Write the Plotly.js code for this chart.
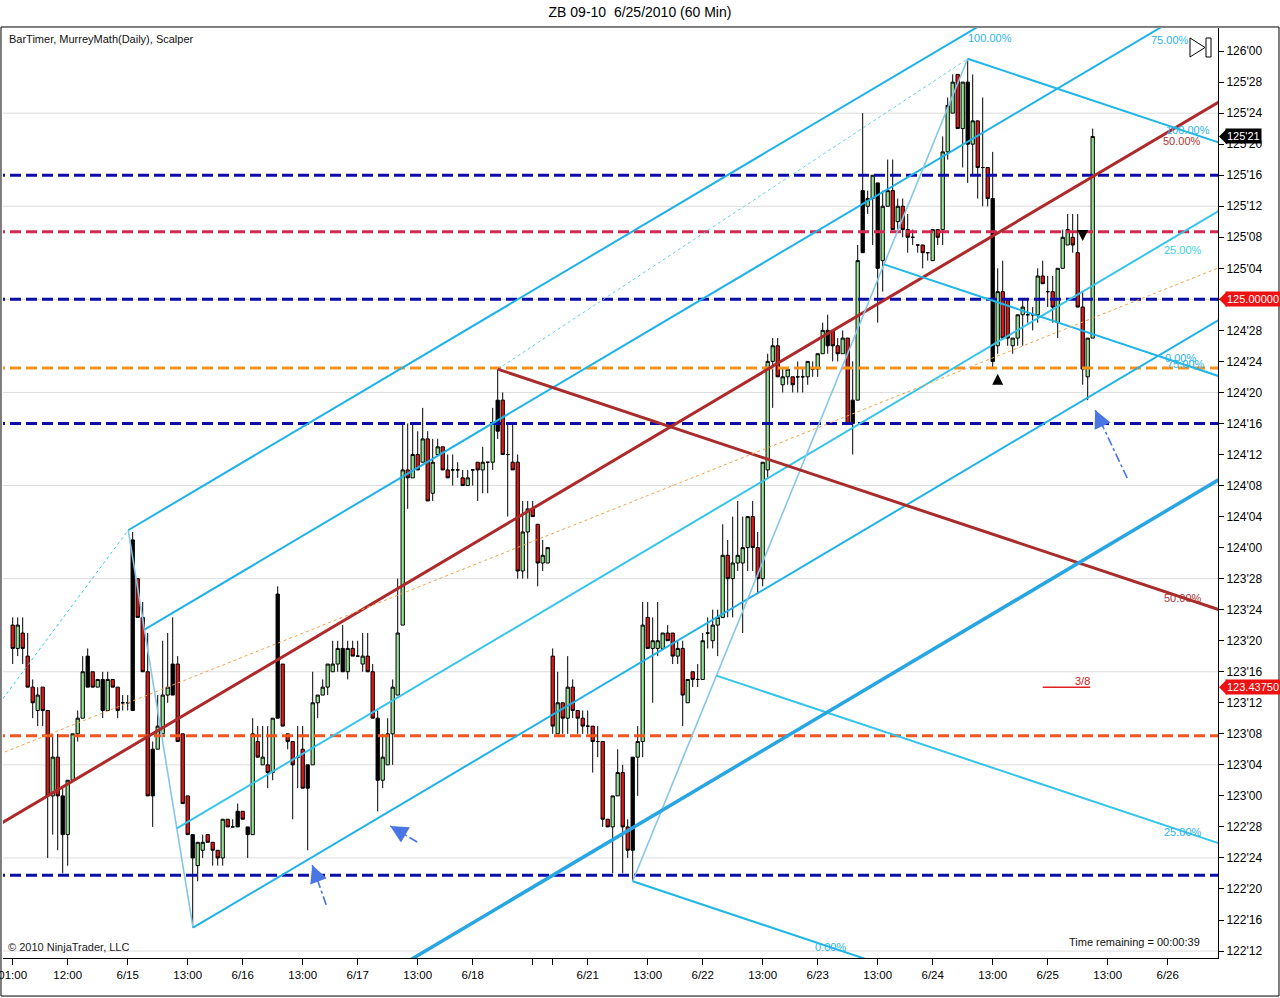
<!DOCTYPE html>
<html>
<head>
<meta charset="utf-8">
<script src="https://cdn.plot.ly/plotly-3.0.1.min.js"></script>
<style>html,body{margin:0;padding:0;background:#fff;}#chart{width:1280px;height:998px;}</style>
</head>
<body>
<div id="chart"></div>
<script>
// ================= DATA (ZB 09-10, 60 min bars, prices in points) =================
const openP = [
123.688,123.594,123.656,123.563,123.438,123.344,123.438,123.344,123,123.156,
123,122.844,123.063,123.25,123.313,123.563,123.5,123.438,123.469,123.344,
123.469,123.438,123.375,123.375,123.344,123.875,123.719,123.5,123,123.188,
123.25,123.406,123.406,123.531,123.25,123,122.844,122.719,122.781,122.844,
122.813,122.781,122.75,122.906,122.875,122.875,122.938,122.875,122.844,123.219,
123.125,123.125,123.094,123.313,123.531,123.25,123.219,123.156,123.188,123.125,
123.125,123.375,123.406,123.438,123.5,123.531,123.594,123.5,123.594,123.563,
123.531,123.563,123.5,123.313,123.063,123.125,123.25,123.406,123.688,124.313,
124.281,124.375,124.344,124.438,124.219,124.375,124.406,124.313,124.313,124.313,
124.281,124.25,124.313,124.344,124.313,124.344,124.344,124.469,124.594,124.375,
124.344,124.344,123.906,124.063,124.156,124.094,123.938,123.938,123.563,123.25,
123.375,123.313,123.438,123.344,123.313,123.281,123.281,123.219,123.219,122.906,
122.875,123,123.094,122.875,122.781,123.156,123.219,123.719,123.594,123.594,
123.594,123.656,123.656,123.563,123.594,123.375,123.5,123.469,123.469,123.656,
123.625,123.688,123.719,123.969,123.875,123.938,123.938,124,124.125,124,
123.875,124.313,124.75,124.813,124.656,124.688,124.688,124.688,124.688,124.688,
124.719,124.719,124.781,124.875,124.875,124.813,124.781,124.844,124.594,124.594,
125.188,125.375,125.406,125.469,125.156,125.375,125.438,125.313,125.375,125.281,
125.25,125.219,125.219,125.188,125.156,125.281,125.281,125.594,125.75,125.906,
125.688,125.875,125.625,125.719,125.531,125.531,125.406,124.813,125.031,125,
124.813,124.844,124.938,124.938,124.938,124.938,125.094,125.031,125.031,124.906,
125.125,125.219,125.25,125.188,124.969,124.688,124.844];
const highP = [
123.719,123.719,123.719,123.656,123.469,123.438,123.438,123.344,123.25,123.25,
123.031,123.063,123.25,123.344,123.563,123.594,123.5,123.469,123.5,123.5,
123.469,123.438,123.406,123.406,124.063,123.875,123.781,123.656,123.219,123.406,
123.625,123.656,123.719,123.563,123.25,123,122.844,122.813,122.844,122.844,
122.813,122.781,122.906,122.906,122.906,122.969,122.938,122.875,123.313,123.281,
123.281,123.281,123.313,123.844,123.531,123.25,123.219,123.281,123.281,123.125,
123.5,123.406,123.469,123.531,123.625,123.625,123.688,123.625,123.625,123.625,
123.656,123.656,123.531,123.344,123.25,123.313,123.469,123.875,124.5,124.5,
124.5,124.469,124.563,124.469,124.438,124.438,124.406,124.375,124.375,124.344,
124.313,124.313,124.313,124.344,124.406,124.344,124.563,124.719,124.625,124.5,
124.5,124.375,124.188,124.188,124.188,124.094,124.031,124,123.594,123.5,
123.375,123.563,123.469,123.344,123.344,123.344,123.281,123.281,123.219,122.906,
123,123.188,123.125,122.906,123.156,123.281,123.781,123.781,123.719,123.781,
123.656,123.688,123.656,123.625,123.625,123.469,123.5,123.531,123.656,123.719,
123.75,123.75,124.094,124.031,124.125,124.188,124.125,124.125,124.188,124.063,
124.344,124.781,124.844,124.844,124.719,124.719,124.688,124.75,124.719,124.75,
124.75,124.781,124.906,124.938,124.875,124.844,124.875,124.844,124.75,125.219,
125.75,125.438,125.5,125.469,125.438,125.563,125.563,125.406,125.406,125.344,
125.281,125.219,125.219,125.188,125.281,125.281,125.656,125.813,125.906,125.906,
125.875,125.969,125.906,125.719,125.813,125.531,125.594,125.125,125.156,125,
124.844,124.938,125,125,124.969,125.125,125.156,125.094,125.094,125.125,
125.281,125.344,125.344,125.344,125.031,124.844,125.688];
const lowP = [
123.531,123.563,123.531,123.438,123.313,123.281,123.281,122.75,122.844,122.781,
122.688,122.719,123.063,123.219,123.313,123.438,123.438,123.438,123.313,123.344,
123.438,123.313,123.344,123.344,123.344,123.719,123.5,123,122.875,123.188,
123.25,123.375,123.406,123.219,122.969,122.844,122.469,122.656,122.75,122.813,
122.719,122.719,122.719,122.875,122.875,122.875,122.906,122.75,122.844,123.156,
123.125,123.031,123.063,123.313,123.281,123.188,122.906,123.031,123.031,122.781,
123.125,123.313,123.406,123.406,123.5,123.5,123.5,123.469,123.563,123.563,
123.5,123.5,123.313,122.938,123.031,123.125,123.125,123.406,123.688,124.156,
124.281,124.313,124.344,124.188,124.188,124.375,124.313,124.281,124.25,124.281,
124.25,124.25,124.25,124.188,124.219,124.219,124.313,124.438,124.375,124.125,
124.313,123.875,123.875,123.875,124.125,123.844,123.906,123.938,123.25,123.25,
123.25,123.25,123.313,123.25,123.25,123.25,123.094,123.156,122.875,122.875,
122.688,123,122.688,122.75,122.656,123,123.156,123.594,123.375,123.563,
123.594,123.625,123.531,123.531,123.281,123.375,123.438,123.438,123.469,123.594,
123.594,123.563,123.719,123.719,123.719,123.906,123.656,123.906,123.906,123.813,
123.844,124.281,124.563,124.688,124.625,124.656,124.625,124.625,124.625,124.656,
124.688,124.688,124.781,124.781,124.75,124.75,124.781,124.5,124.375,124.594,
125.188,125.344,125.219,124.906,125.031,125.375,125.281,125.281,125.25,125.188,
125.219,125.188,125.125,125.156,125.156,125.219,125.219,125.563,125.75,125.688,
125.531,125.469,125.5,125.406,125.375,125.375,124.719,124.781,124.844,124.813,
124.781,124.813,124.813,124.906,124.875,124.906,125.063,124.969,124.906,124.844,
125.125,125.219,125.188,124.969,124.656,124.594,124.844];
const closeP = [
123.594,123.688,123.594,123.438,123.375,123.406,123.344,123,123.156,123,
122.844,123.063,123.25,123.313,123.5,123.438,123.438,123.469,123.344,123.469,
123.438,123.344,123.375,123.375,124.031,123.719,123.5,123,123.188,123.281,
123.406,123.438,123.531,123.219,122.969,122.844,122.75,122.813,122.813,122.813,
122.781,122.75,122.906,122.875,122.875,122.938,122.906,122.844,123.25,123.156,
123.156,123.094,123.313,123.813,123.281,123.219,123.125,123.156,123.031,123.031,
123.375,123.406,123.438,123.531,123.531,123.594,123.5,123.594,123.563,123.563,
123.563,123.5,123.313,123.063,123.156,123.25,123.438,123.656,124.313,124.281,
124.375,124.313,124.438,124.188,124.344,124.406,124.313,124.281,124.313,124.313,
124.25,124.281,124.313,124.313,124.344,124.344,124.5,124.594,124.375,124.375,
124.313,123.906,124.063,124.156,124.125,123.938,123.969,124,123.281,123.375,
123.313,123.438,123.344,123.313,123.281,123.281,123.219,123.219,122.906,122.875,
123,123.094,122.875,122.781,123.156,123.219,123.688,123.594,123.625,123.625,
123.656,123.625,123.563,123.594,123.406,123.469,123.469,123.469,123.625,123.656,
123.688,123.719,123.969,123.875,123.938,123.969,124,124.125,124,123.875,
124.344,124.75,124.813,124.688,124.688,124.719,124.656,124.688,124.688,124.75,
124.719,124.781,124.875,124.813,124.813,124.781,124.844,124.5,124.5,125.156,
125.438,125.406,125.5,125.125,125.375,125.438,125.281,125.375,125.281,125.25,
125.25,125.219,125.188,125.188,125.281,125.25,125.594,125.781,125.875,125.688,
125.875,125.625,125.719,125.531,125.531,125.406,124.75,125.031,124.844,124.844,
124.844,124.938,124.969,124.938,124.938,125.094,125.063,125.031,124.969,125.125,
125.25,125.281,125.219,124.969,124.719,124.844,125.656];
// bars painted black by the Scalper indicator
const scalperBars = [10,15,18,24,28,32,36,45,47,53,59,66,73,97,124,163,168,170,173,191,196];
// Scalper signal arrows
const scalperUpBar = [197], scalperUpPrice = [124.70];
const scalperDownBar = [214], scalperDownPrice = [125.235];
// time axis labels (bar index -> label)
const xTickBars = [0,11,23,35,46,58,69,81,92,104,108,115,127,138,150,161,173,184,196,207,219,231];
const xTickText = ['01:00','12:00','6/15','13:00','6/16','13:00','6/17','13:00','6/18','','','6/21','13:00','6/22','13:00','6/23','13:00','6/24','13:00','6/25','13:00','6/26'];
// MurreyMath(Daily) levels
const mmLevels = [125.5, 125.272, 125.0, 124.723, 124.5, 123.242, 122.68];
const mm38Level = 123.4375;
const mm38Bars = [206, 215.5];
// Andrews pitchforks: anchors A, B, C (bar index, price)
const fork1Bars = [-34.9, 23.1, 36.06];
const fork1Price = [122.50, 124.07, 122.469];
const fork2Bars = [97, 191, 124];
const fork2Price = [124.719, 125.969, 122.656];
const forkLevels = [0, 0.25, 0.75, 1];
// extra drawn lines (two anchor points each)
const orangeBars = [-1.54, 241.06], orangePrice = [123.177, 125.126];
const thickBars = [80.5, 241.06], thickPrice = [122.351, 124.272];
const lastPrice = 125.65625;

// ================= CHART =================
const XMIN = -1.94, XMAX = 241.06, YMIN = 122.347, YMAX = 126.093;
const FONT = 'Liberation Sans, Arial, sans-serif';
const idx = openP.map((_, k) => k);
const painted = idx.map(k => scalperBars.includes(k));
const pick = (arr, want) => arr.filter((_, k) => painted[k] === want);

const traces = [];
traces.push({
  type: 'candlestick', x: pick(idx, false), open: pick(openP, false), high: pick(highP, false),
  low: pick(lowP, false), close: pick(closeP, false), whiskerwidth: 0, hoverinfo: 'skip', showlegend: false,
  increasing: {line: {color: '#000', width: 1}, fillcolor: '#98E398'},
  decreasing: {line: {color: '#000', width: 1}, fillcolor: '#E01818'}
});
traces.push({
  type: 'candlestick', x: pick(idx, true), open: pick(openP, true), high: pick(highP, true),
  low: pick(lowP, true), close: pick(closeP, true), whiskerwidth: 0, hoverinfo: 'skip', showlegend: false,
  increasing: {line: {color: '#000', width: 1}, fillcolor: '#000'},
  decreasing: {line: {color: '#000', width: 1}, fillcolor: '#000'}
});

function line(xs, ys, color, width, dash) {
  return {type: 'scatter', mode: 'lines', x: xs, y: ys, hoverinfo: 'skip', showlegend: false,
          line: {color: color, width: width, dash: dash || 'solid'}};
}

// MurreyMath dashed levels
const mmStyle = ['#0C0CA8', '#D22852', '#0C0CA8', '#F7931E', '#0C0CA8', '#F0561E', '#0C0CA8'];
mmLevels.forEach((lv, k) => traces.push(line([XMIN - 5, XMAX + 5], [lv, lv], mmStyle[k], 3, '11px,5px')));

// pitchforks
function fork(I, P, lineColor, medColor, dotColor) {
  const [Ai, Bi, Ci] = I, [Ap, Bp, Cp] = P;
  const Mi = (Bi + Ci) / 2, Mp = (Bp + Cp) / 2;
  const s = (Mp - Ap) / (Mi - Ai);
  const xe = XMAX + 5;
  traces.push(line([Ai, Bi], [Ap, Bp], dotColor, 1, 'dot'));
  traces.push(line([Bi, Ci], [Bp, Cp], '#86C6E6', 1.6));
  forkLevels.forEach(f => {
    const pi = Ci + f * (Bi - Ci), pp = Cp + f * (Bp - Cp);
    traces.push(line([pi, xe], [pp, pp + s * (xe - pi)], f === 0.25 ? '#35C4EC' : lineColor, 2));
  });
  traces.push(line([Ai, xe], [Ap, Ap + s * (xe - Ai)], medColor, 3));
}
fork(fork1Bars, fork1Price, '#1FB2E8', '#AE2A2A', '#35C8EA');
fork(fork2Bars, fork2Price, '#1FB6E8', '#A82C2C', '#5AD0EE');

// other drawn lines
traces.push(line(orangeBars, orangePrice, '#F5A045', 1, 'dot'));
{
  const s = (thickPrice[1] - thickPrice[0]) / (thickBars[1] - thickBars[0]);
  const x0 = thickBars[0] - 10, x1 = XMAX + 5;
  traces.push(line([x0, x1], [thickPrice[0] + s * (x0 - thickBars[0]), thickPrice[0] + s * (x1 - thickBars[0])], '#27A6E2', 3.5));
}
traces.push(line(mm38Bars, [mm38Level, mm38Level], '#E02020', 1.5));

// scalper arrows
traces.push({type: 'scatter', mode: 'markers', x: scalperUpBar, y: scalperUpPrice, hoverinfo: 'skip', showlegend: false,
  marker: {symbol: 'arrow-up', size: 11, color: '#000'}});
traces.push({type: 'scatter', mode: 'markers', x: scalperDownBar, y: scalperDownPrice, hoverinfo: 'skip', showlegend: false,
  marker: {symbol: 'arrow-down', size: 11, color: '#000'}});

// y ticks in 32nds
function fmt32(p) { const w = Math.floor(p + 1e-9); const f = Math.round((p - w) * 32); return w + "'" + String(f).padStart(2, '0'); }
const yTickVals = [];
for (let k = 0; 122.375 + k * 0.125 <= 126.0001; k++) yTickVals.push(122.375 + k * 0.125);
const yTickText = yTickVals.map(fmt32);

// shapes
const py = p => (p - YMIN) / (YMAX - YMIN);
const shapes = [];
for (let k = 0; 122.375 + k * 0.375 <= 126.0001; k++) {
  const g = 122.375 + k * 0.375;
  shapes.push({type: 'line', xref: 'paper', yref: 'y', x0: 0, x1: 1, y0: g, y1: g, layer: 'below',
               line: {color: '#DCDCDC', width: 1}});
}
// outer frame
shapes.push({type: 'rect', xref: 'paper', yref: 'paper', x0: -0.00165, x1: 1.0502, y0: -0.0409, y1: 1.0011,
             line: {color: '#000', width: 1}, fillcolor: 'rgba(0,0,0,0)', layer: 'above'});
// play icon
shapes.push({type: 'path', xref: 'paper', yref: 'paper', path: 'M0.97695,0.98925 L0.97695,0.96882 L0.98930,0.97903 Z',
             line: {color: '#000', width: 1}, fillcolor: '#fff'});
shapes.push({type: 'rect', xref: 'paper', yref: 'paper', x0: 0.99012, x1: 0.99424, y0: 0.96882, y1: 0.98925,
             line: {color: '#000', width: 1}, fillcolor: '#fff'});
// price marker pointers
const dp = 8 / 248.3 / (YMAX - YMIN);
[[lastPrice, '#000'], [125.0, '#EE1111'], [mm38Level, '#EE1111']].forEach(([p, c]) => {
  const y = py(p);
  shapes.push({type: 'path', xref: 'paper', yref: 'paper',
    path: `M1.0008,${y} L1.0075,${y + dp} L1.0075,${y - dp} Z`, line: {width: 0}, fillcolor: c});
});
// blue hint arrows (shafts)
const hintArrows = [
  {head: [216.5, 124.554], tail: [222.9, 124.280], ax: 6, ay: 13},
  {head: [75.5, 122.879], tail: [80.9, 122.814], ax: 12, ay: 7},
  {head: [59.9, 122.722], tail: [62.7, 122.561], ax: 5, ay: 13}
];
hintArrows.forEach(a => shapes.push({type: 'line', xref: 'x', yref: 'y', x0: a.tail[0], y0: a.tail[1], x1: a.head[0], y1: a.head[1],
  line: {color: '#4A76E4', width: 1.6, dash: 'dashdot'}}));

// annotations
const ann = [];
const txt = (x, y, text, color, opts) => Object.assign({x: x, y: y, xref: 'x', yref: 'y', text: text, showarrow: false,
  font: {family: FONT, size: 11, color: color}}, opts || {});
ann.push({xref: 'paper', yref: 'paper', x: 0.0033, y: 0.988, xanchor: 'left', yanchor: 'middle', showarrow: false,
          text: 'BarTimer, MurreyMath(Daily), Scalper', font: {family: FONT, size: 11, color: '#111'}});
ann.push({xref: 'paper', yref: 'paper', x: 0.0025, y: 0.0118, xanchor: 'left', yanchor: 'middle', showarrow: false,
          text: '© 2010 NinjaTrader, LLC', font: {family: FONT, size: 11, color: '#222'}});
ann.push({xref: 'paper', yref: 'paper', x: 0.9868, y: 0.0172, xanchor: 'right', yanchor: 'middle', showarrow: false,
          text: 'Time remaining = 00:00:39', font: {family: FONT, size: 11, color: '#111'}});
// pitchfork level labels
const cy = '#2EB4E8', br = '#B03434';
ann.push(txt(233.5, 124.764, '0.00%', cy));
ann.push(txt(234.1, 125.199, '25.00%', '#3DD2E6'));
ann.push(txt(233.9, 125.638, '50.00%', br));
ann.push(txt(231.5, 126.044, '75.00%', cy));
ann.push(txt(195.5, 126.052, '100.00%', cy));
ann.push(txt(163.5, 122.391, '0.00%', cy));
ann.push(txt(234.1, 122.855, '25.00%', cy));
ann.push(txt(234.1, 123.797, '50.00%', br));
ann.push(txt(234.7, 124.739, '75.00%', cy));
ann.push(txt(235.0, 125.682, '100.00%', cy));
ann.push(txt(213.9, 123.463, '3/8', '#D02020'));
// right price markers
[[lastPrice, fmt32(lastPrice), '#000'], [125.0, '125.00000', '#EE1111'], [mm38Level, '123.43750', '#EE1111']].forEach(([p, t, c]) => {
  ann.push({xref: 'paper', yref: 'y', x: 1, y: p, xanchor: 'left', yanchor: 'middle', xshift: 7, showarrow: false,
            text: t, bgcolor: c, borderpad: 1, font: {family: FONT, size: 11, color: '#fff'}});
});
// arrow heads
hintArrows.forEach(a => ann.push({x: a.head[0], y: a.head[1], xref: 'x', yref: 'y', text: '', showarrow: true,
  ax: a.ax, ay: a.ay, arrowhead: 2, arrowsize: 2.2, arrowwidth: 1.6, arrowcolor: '#4A76E4', standoff: 0}));

const layout = {
  width: 1280, height: 998,
  margin: {l: 3, r: 62, t: 28, b: 40},
  paper_bgcolor: '#fff', plot_bgcolor: '#fff',
  font: {family: FONT, color: '#000'},
  title: {text: 'ZB 09-10&nbsp; 6/25/2010 (60 Min)', x: 0.5, xanchor: 'center', y: 0.988, yanchor: 'middle',
          font: {family: FONT, size: 14, color: '#000'}},
  showlegend: false, hovermode: false, boxgap: 0.06,
  xaxis: {range: [XMIN, XMAX], showgrid: false, zeroline: false, showline: true, linecolor: '#000', linewidth: 1,
          ticks: 'outside', ticklen: 6, tickcolor: '#000', tickmode: 'array', tickvals: xTickBars, ticktext: xTickText,
          ticklabeloverflow: 'allow',
          tickfont: {family: FONT, size: 11.5, color: '#000'}, rangeslider: {visible: false}, fixedrange: true},
  yaxis: {range: [YMIN, YMAX], side: 'right', showgrid: false, zeroline: false, showline: true, linecolor: '#000',
          linewidth: 1, ticks: 'outside', ticklen: 5, tickcolor: '#000', tickmode: 'array', tickvals: yTickVals,
          ticktext: yTickText, tickfont: {family: FONT, size: 12, color: '#000'}, fixedrange: true},
  shapes: shapes, annotations: ann
};
Plotly.newPlot('chart', traces, layout, {displayModeBar: false, staticPlot: true});
</script>
</body>
</html>
